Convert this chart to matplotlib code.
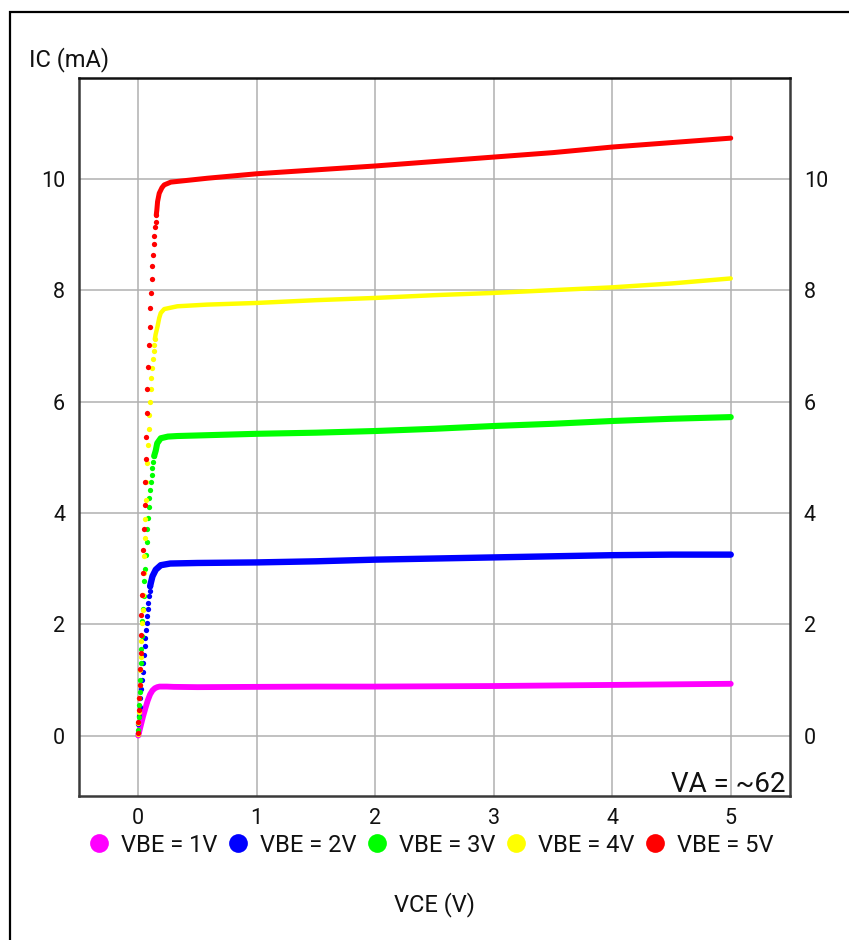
import matplotlib
matplotlib.use("Agg")
import matplotlib.pyplot as plt
from matplotlib.lines import Line2D
from matplotlib.patches import Rectangle

plt.rcParams['font.family'] = ['Roboto', 'DejaVu Sans']

# ---- measured IC(VCE) characteristics ----
series_labels = ["VBE = 1V", "VBE = 2V", "VBE = 3V", "VBE = 4V", "VBE = 5V"]
series_colors = ["#ff00ff", "#0000ff", "#00ff00", "#ffff00", "#ff0000"]

# VBE = 1V (dense samples, appears as a continuous trace)
vbe1_rise_v = []
vbe1_rise_i = []
vbe1_flat_v = [0.0, 0.02, 0.04, 0.06, 0.08, 0.10, 0.12, 0.14, 0.16, 0.18, 0.24, 0.30,
               0.5, 1.0, 1.5, 2.0, 2.5, 3.0, 3.5, 4.0, 4.5, 5.0]
vbe1_flat_i = [0.0, 0.17, 0.34, 0.49, 0.63, 0.74, 0.81, 0.85, 0.87, 0.88, 0.88, 0.875,
               0.87, 0.875, 0.88, 0.88, 0.885, 0.89, 0.90, 0.91, 0.92, 0.93]

# VBE = 2V
vbe2_rise_v = [0.000, 0.002, 0.007, 0.013, 0.018, 0.024, 0.030, 0.036, 0.042, 0.048,
               0.053, 0.059, 0.064, 0.070, 0.076, 0.081, 0.086, 0.090, 0.095, 0.100]
vbe2_rise_i = [0.05, 0.20, 0.36, 0.52, 0.68, 0.84, 1.00, 1.15, 1.30, 1.45,
               1.60, 1.75, 1.89, 2.02, 2.15, 2.27, 2.39, 2.50, 2.60, 2.68]
vbe2_flat_v = [0.100, 0.106, 0.120, 0.148, 0.19, 0.27, 0.5, 1.0, 1.5, 2.0, 2.5, 3.0,
               3.5, 4.0, 4.5, 5.0]
vbe2_flat_i = [2.68, 2.74, 2.86, 2.98, 3.06, 3.09, 3.10, 3.11, 3.13, 3.16, 3.18, 3.20,
               3.22, 3.24, 3.25, 3.25]

# VBE = 3V
vbe3_rise_v = [0.000, 0.003, 0.008, 0.012, 0.016, 0.020, 0.024, 0.028, 0.034, 0.040,
               0.046, 0.052, 0.059, 0.066, 0.072, 0.078, 0.083, 0.088, 0.093, 0.100,
               0.108, 0.114, 0.120, 0.126, 0.134]
vbe3_rise_i = [0.10, 0.34, 0.55, 0.79, 1.00, 1.30, 1.55, 1.78, 2.05, 2.28,
               2.51, 2.77, 2.99, 3.25, 3.48, 3.71, 3.90, 4.10, 4.26, 4.41,
               4.56, 4.68, 4.80, 4.92, 5.02]
vbe3_flat_v = [0.134, 0.148, 0.16, 0.19, 0.25, 0.33, 0.5, 1.0, 1.5, 2.0, 2.5, 3.0,
               3.5, 4.0, 4.5, 5.0]
vbe3_flat_i = [5.02, 5.12, 5.25, 5.34, 5.37, 5.38, 5.39, 5.42, 5.44, 5.47, 5.51, 5.56,
               5.60, 5.65, 5.69, 5.72]

# VBE = 4V
vbe4_rise_v = [0.000, 0.001, 0.003, 0.006, 0.011, 0.016, 0.021, 0.027, 0.033, 0.037,
               0.041, 0.045, 0.050, 0.054, 0.059, 0.064, 0.069, 0.075, 0.081, 0.087,
               0.093, 0.098, 0.105, 0.111, 0.117, 0.123, 0.129, 0.135, 0.140]
vbe4_rise_i = [0.03, 0.23, 0.43, 0.67, 0.91, 1.18, 1.42, 1.69, 2.02, 2.26,
               2.53, 2.92, 3.22, 3.55, 3.89, 4.23, 4.55, 4.89, 5.22, 5.50,
               5.76, 6.00, 6.23, 6.43, 6.60, 6.76, 6.90, 7.02, 7.12]
vbe4_flat_v = [0.140, 0.146, 0.163, 0.177, 0.19, 0.219, 0.33, 0.58, 1.0, 1.5, 2.0,
               2.5, 3.0, 3.5, 4.0, 4.5, 5.0]
vbe4_flat_i = [7.12, 7.20, 7.35, 7.50, 7.59, 7.66, 7.71, 7.74, 7.77, 7.82, 7.86,
               7.91, 7.95, 8.00, 8.05, 8.12, 8.21]

# VBE = 5V
vbe5_rise_v = [0.000, 0.001, 0.003, 0.007, 0.011, 0.016, 0.020, 0.023, 0.027, 0.031,
               0.036, 0.042, 0.047, 0.053, 0.059, 0.064, 0.068, 0.072, 0.078, 0.084,
               0.091, 0.098, 0.103, 0.107, 0.112, 0.118, 0.123, 0.129, 0.135, 0.140,
               0.146, 0.152]
vbe5_rise_i = [0.05, 0.25, 0.46, 0.67, 0.91, 1.19, 1.48, 1.81, 2.17, 2.53,
               2.92, 3.34, 3.71, 4.14, 4.55, 4.96, 5.37, 5.80, 6.23, 6.62,
               7.01, 7.34, 7.68, 7.95, 8.20, 8.44, 8.63, 8.83, 8.98, 9.13,
               9.23, 9.35]
vbe5_flat_v = [0.152, 0.157, 0.163, 0.177, 0.20, 0.219, 0.275, 0.584, 1.0, 1.5, 2.0,
               2.5, 3.0, 3.5, 4.0, 4.5, 5.0]
vbe5_flat_i = [9.35, 9.44, 9.59, 9.74, 9.84, 9.89, 9.94, 10.01, 10.09, 10.16, 10.23,
               10.31, 10.39, 10.47, 10.57, 10.65, 10.73]

rise_v = [vbe1_rise_v, vbe2_rise_v, vbe3_rise_v, vbe4_rise_v, vbe5_rise_v]
rise_i = [vbe1_rise_i, vbe2_rise_i, vbe3_rise_i, vbe4_rise_i, vbe5_rise_i]
flat_v = [vbe1_flat_v, vbe2_flat_v, vbe3_flat_v, vbe4_flat_v, vbe5_flat_v]
flat_i = [vbe1_flat_i, vbe2_flat_i, vbe3_flat_i, vbe4_flat_i, vbe5_flat_i]
trace_widths = [4.2, 4.6, 4.4, 3.2, 3.6]

x_ticks = [0, 1, 2, 3, 4, 5]
y_ticks = [0, 2, 4, 6, 8, 10]
early_voltage_text = "VA = ~62"

W, H = 849, 940
fig = plt.figure(figsize=(W / 100, H / 100), dpi=100)
fig.patch.set_facecolor("white")

# outer frame (runs off the right and bottom edges)
fig.patches.append(Rectangle((9.5 / W, -0.05), 1.2, 1 - 11.5 / H + 0.05,
                             transform=fig.transFigure, fill=False,
                             edgecolor="black", linewidth=1.6, zorder=0))

ax = fig.add_axes([79 / W, 1 - 796 / H, (790 - 79) / W, (796 - 78) / H])
ax.set_xlim(-0.5, 5.5)
ax.set_ylim(-1.085, 11.81)
ax.set_xticks(x_ticks)
ax.set_yticks(y_ticks)
ax.set_xticklabels([str(t) for t in x_ticks])
ax.set_yticklabels([str(t) for t in y_ticks])
ax.grid(True, color="#b0b0b0", linewidth=1.1)
ax.set_axisbelow(True)
ax.tick_params(axis="both", length=0, labelsize=15.5, colors="#111111")
ax.tick_params(axis="x", pad=9)
ax.tick_params(axis="y", pad=10, right=True, labelright=True)
for side in ["left", "right", "top", "bottom"]:
    ax.spines[side].set_linewidth(1.8)
    ax.spines[side].set_color("#3a3a3a")
ax.spines["top"].set_color("#111111")

for k in range(5):
    c = series_colors[k]
    ax.plot(flat_v[k], flat_i[k], color=c, linewidth=trace_widths[k],
            solid_capstyle="round", solid_joinstyle="round", zorder=3 + k)
    if rise_v[k]:
        ax.plot(rise_v[k], rise_i[k], linestyle="none", marker="o",
                markersize=3.8, markeredgewidth=0, color=c, zorder=3 + k)

ax.text(0.993, 0.006, early_voltage_text, transform=ax.transAxes,
        ha="right", va="baseline", fontsize=20, color="#111111", zorder=10)

fig.text(29 / W, 1 - 60 / H, "IC (mA)", ha="left", va="center",
         fontsize=17, color="#111111")
fig.text(435 / W, 1 - 905 / H, "VCE (V)", ha="center", va="center",
         fontsize=17, color="#111111")

handles = [Line2D([], [], linestyle="none", marker="o", markersize=13.5,
                  markeredgewidth=0, color=c) for c in series_colors]
fig.legend(handles, series_labels, loc="center", ncol=5,
           bbox_to_anchor=(431 / W, 1 - 845 / H), frameon=False,
           fontsize=17, handlelength=0.9, handletextpad=0.5,
           columnspacing=0.4, borderaxespad=0, labelcolor="#111111")

fig.savefig("out.png", dpi=100, facecolor="white")
